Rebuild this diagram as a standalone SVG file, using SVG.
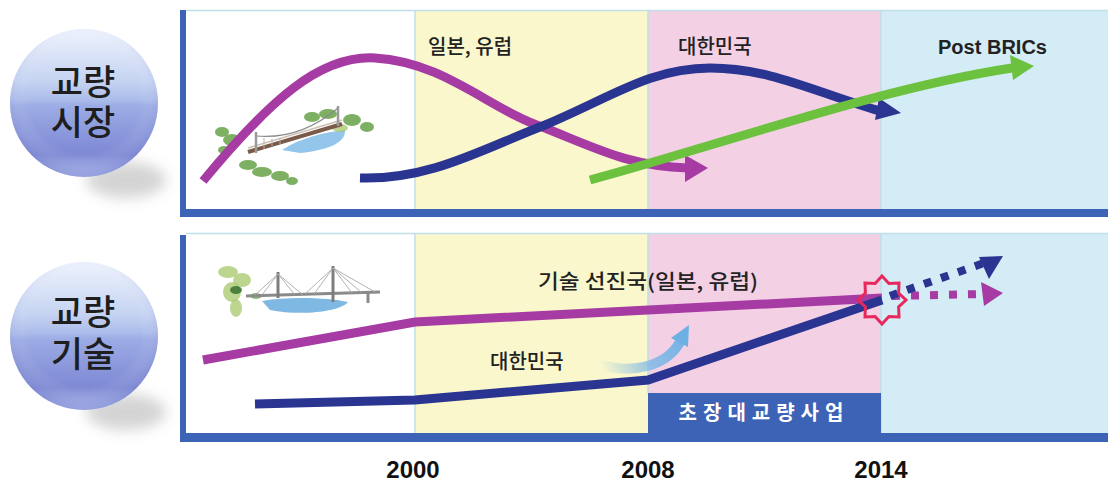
<svg xmlns="http://www.w3.org/2000/svg" width="1108" height="484" viewBox="0 0 1108 484">
  <style>
    .lbl { font-family: "Noto Sans CJK KR", "Noto Sans", sans-serif; font-size: 20px; font-weight: 500; fill: #222; }
    .orb { font-family: "Noto Sans CJK KR", "Noto Sans", sans-serif; font-size: 35px; font-weight: 500; fill: #1e1e1e; text-anchor: middle; }
    .year { font-family: "Liberation Sans", Arial, sans-serif; font-size: 24px; font-weight: bold; fill: #111; text-anchor: middle; }
    .frame { fill: #3c63b6; }
    .sep { stroke: #bfe0e8; stroke-width: 1.5; }
    .mag { fill: none; stroke: #a63ba3; stroke-width: 9; }
    .navy { fill: none; stroke: #2a3592; stroke-width: 9; }
    .grn { fill: none; stroke: #6cc13f; stroke-width: 9; }
    .leaf { fill: #5e9c3c; opacity: 0.8; }
    .leaf2 { fill: #a6c76a; opacity: 0.75; }
  </style>
  <defs>
    <linearGradient id="orbFill" x1="0" y1="0" x2="0" y2="1">
      <stop offset="0" stop-color="#eef3fc"/>
      <stop offset="0.35" stop-color="#c6d4f2"/>
      <stop offset="0.48" stop-color="#abbcea"/>
      <stop offset="0.52" stop-color="#9cace5"/>
      <stop offset="0.85" stop-color="#7d88d4"/>
      <stop offset="1" stop-color="#a6b3e8"/>
    </linearGradient>
    <radialGradient id="orbShade" cx="0.5" cy="0.45" r="0.55">
      <stop offset="0.7" stop-color="#ffffff" stop-opacity="0"/>
      <stop offset="1" stop-color="#6d78c8" stop-opacity="0.3"/>
    </radialGradient>
    <filter id="soft" x="-50%" y="-50%" width="200%" height="200%">
      <feGaussianBlur stdDeviation="7"/>
    </filter>
    <linearGradient id="sweep" gradientUnits="userSpaceOnUse" x1="600" y1="365" x2="690" y2="330">
      <stop offset="0" stop-color="#7ab8e6" stop-opacity="0"/>
      <stop offset="0.5" stop-color="#7ab8e6" stop-opacity="0.8"/>
      <stop offset="1" stop-color="#6db0e4"/>
    </linearGradient>
  </defs>

  <!-- round badges -->
  <g id="badge-market">
    <ellipse cx="126" cy="180" rx="40" ry="18" fill="#a0a0a0" opacity="0.45" filter="url(#soft)"/>
    <circle cx="84" cy="103" r="74" fill="url(#orbFill)"/>
    <circle cx="84" cy="103" r="74" fill="url(#orbShade)"/>
    <text class="orb" x="83" y="95">교량<tspan x="83" dy="40">시장</tspan></text>
  </g>
  <g id="badge-tech">
    <ellipse cx="126" cy="412" rx="40" ry="18" fill="#a0a0a0" opacity="0.45" filter="url(#soft)"/>
    <circle cx="84" cy="336" r="74" fill="url(#orbFill)"/>
    <circle cx="84" cy="336" r="74" fill="url(#orbShade)"/>
    <text class="orb" x="83" y="325">교량<tspan x="83" dy="42">기술</tspan></text>
  </g>

  <!-- market panel -->
  <g id="panel-market">
    <rect x="186" y="10" width="229" height="200" fill="#ffffff"/>
    <rect x="415" y="10" width="233" height="200" fill="#fbf7cd"/>
    <rect x="648" y="10" width="233" height="200" fill="#f3d0e4"/>
    <rect x="881" y="10" width="227" height="200" fill="#d3ecf6"/>
    <line class="sep" x1="186" y1="10.5" x2="1108" y2="10.5"/>
    <line class="sep" x1="415" y1="10" x2="415" y2="209"/>
    <line class="sep" x1="648" y1="10" x2="648" y2="209"/>
    <line class="sep" x1="881" y1="10" x2="881" y2="209"/>
    <rect class="frame" x="180" y="10" width="6" height="207"/>
    <rect class="frame" x="180" y="209" width="928" height="8"/>
  </g>

  <!-- technology panel -->
  <g id="panel-tech">
    <rect x="186" y="233" width="229" height="200" fill="#ffffff"/>
    <rect x="415" y="233" width="233" height="200" fill="#fbf7cd"/>
    <rect x="648" y="233" width="233" height="200" fill="#f3d0e4"/>
    <rect x="881" y="233" width="227" height="200" fill="#d3ecf6"/>
    <line class="sep" x1="186" y1="233.5" x2="1108" y2="233.5"/>
    <line class="sep" x1="415" y1="233" x2="415" y2="433"/>
    <line class="sep" x1="648" y1="233" x2="648" y2="393"/>
    <line class="sep" x1="881" y1="233" x2="881" y2="433"/>
    <rect class="frame" x="180" y="235" width="6" height="207"/>
    <rect class="frame" x="180" y="433" width="928" height="9"/>
  </g>

  <!-- suspension bridge sketch -->
  <g id="bridge-suspension">
    <path d="M282,150 C300,138 325,132 345,130 C346,142 330,150 300,153 Z" fill="#5aa6e0" opacity="0.65"/>
    <ellipse class="leaf" cx="222" cy="132" rx="7" ry="5"/>
    <ellipse class="leaf" cx="232" cy="140" rx="9" ry="6"/>
    <ellipse class="leaf" cx="224" cy="150" rx="6" ry="4"/>
    <ellipse class="leaf" cx="248" cy="165" rx="9" ry="5"/>
    <ellipse class="leaf" cx="262" cy="172" rx="10" ry="5"/>
    <ellipse class="leaf" cx="280" cy="176" rx="9" ry="5"/>
    <ellipse class="leaf" cx="292" cy="181" rx="6" ry="4"/>
    <ellipse class="leaf" cx="312" cy="117" rx="8" ry="5"/>
    <ellipse class="leaf" cx="328" cy="114" rx="9" ry="5"/>
    <ellipse class="leaf" cx="352" cy="120" rx="9" ry="6"/>
    <ellipse class="leaf" cx="367" cy="127" rx="7" ry="5"/>
    <ellipse class="leaf2" cx="340" cy="128" rx="8" ry="4"/>
    <path d="M248,152 L342,124" stroke="#7a5a48" stroke-width="4" fill="none"/>
    <path d="M248,148 L342,120" stroke="#cdbfb0" stroke-width="1.5" fill="none"/>
    <path d="M256,136 Q300,140 338,108" stroke="#8a8a8a" stroke-width="1.2" fill="none"/>
    <line x1="256" y1="132" x2="256" y2="153" stroke="#9a9a9a" stroke-width="2.5"/>
    <line x1="338" y1="106" x2="338" y2="126" stroke="#9a9a9a" stroke-width="2.5"/>
    <g stroke="#b0b0b0" stroke-width="1">
      <line x1="264" y1="138" x2="264" y2="149"/>
      <line x1="272" y1="139" x2="272" y2="146"/>
      <line x1="280" y1="138" x2="280" y2="144"/>
    </g>
  </g>

  <!-- cable-stayed bridge sketch -->
  <g id="bridge-cable">
    <path d="M262,301 C290,296 330,298 348,302 C340,312 300,316 270,310 Z" fill="#4a9ad8" opacity="0.7"/>
    <ellipse class="leaf2" cx="228" cy="272" rx="10" ry="6"/>
    <ellipse class="leaf2" cx="242" cy="280" rx="9" ry="7"/>
    <ellipse class="leaf2" cx="232" cy="292" rx="9" ry="10"/>
    <ellipse class="leaf2" cx="236" cy="308" rx="6" ry="9"/>
    <ellipse cx="236" cy="290" rx="6" ry="4" fill="#2f6a2a" opacity="0.8"/>
    <ellipse cx="256" cy="296" rx="6" ry="3" fill="#5e9c3c" opacity="0.7"/>
    <path d="M246,296 L380,292" stroke="#8a8a8a" stroke-width="3" fill="none"/>
    <line x1="278" y1="272" x2="278" y2="298" stroke="#7d7d7d" stroke-width="3"/>
    <line x1="333" y1="266" x2="333" y2="302" stroke="#7d7d7d" stroke-width="3"/>
    <line x1="368" y1="293" x2="368" y2="303" stroke="#8a8a8a" stroke-width="3"/>
    <g stroke="#a8a8a8" stroke-width="0.9">
      <line x1="278" y1="274" x2="255" y2="295"/>
      <line x1="278" y1="274" x2="262" y2="295"/>
      <line x1="278" y1="274" x2="295" y2="295"/>
      <line x1="278" y1="274" x2="303" y2="295"/>
      <line x1="333" y1="268" x2="305" y2="294"/>
      <line x1="333" y1="268" x2="314" y2="294"/>
      <line x1="333" y1="268" x2="352" y2="293"/>
      <line x1="333" y1="268" x2="362" y2="293"/>
      <line x1="333" y1="268" x2="375" y2="292"/>
    </g>
  </g>

  <!-- trend lines -->
  <g id="connectors">
    <!-- market: established players -->
    <path class="mag" d="M203,181 C270,100 320,55 375,58 C445,62 490,110 545,128 C600,150 630,166 688,168"/>
    <polygon points="708,168 685,155 685,182" fill="#a63ba3"/>
    <!-- market: Korea -->
    <path class="navy" d="M360,178 C430,180 480,150 545,125 C610,98 650,68 710,68 C770,68 815,92 880,111"/>
    <polygon points="901,113 879,98 875,120" fill="#2a3592"/>
    <!-- market: Post BRICs -->
    <path class="grn" d="M590,180 C720,145 880,88 1012,68"/>
    <polygon points="1034,66 1010,55 1013,80" fill="#6cc13f"/>

    <!-- technology: leading countries -->
    <path class="mag" stroke-width="8" d="M203,360 L415,322 L882,298"/>
    <path d="M892,296 L985,294" fill="none" stroke="#a63ba3" stroke-width="8" stroke-dasharray="8,11"/>
    <polygon points="1003,293 981,282 984,306" fill="#a63ba3"/>
    <!-- technology: Korea -->
    <path class="navy" stroke-width="8" d="M255,404 L415,400 L648,380 L882,300"/>
    <path d="M890,296 L984,263" fill="none" stroke="#2a3592" stroke-width="8" stroke-dasharray="8,10"/>
    <polygon points="1003,256 979,257 989,279" fill="#2a3592"/>
    <!-- catch-up sweep -->
    <path d="M598,364 C630,374 665,368 680,342" fill="none" stroke="url(#sweep)" stroke-width="10"/>
    <polygon points="689,325 671,338 688,347" fill="#6db0e4"/>
    <!-- convergence point -->
    <polygon points="882,276 888.9,283.4 899,283 898.6,293.1 906,300 898.6,306.9 899,317 888.9,316.6 882,324 875.1,316.6 865,317 865.4,306.9 858,300 865.4,293.1 865,283 875.1,283.4" fill="none" stroke="#e8285c" stroke-width="3" stroke-linejoin="miter"/>
  </g>

  <!-- labels -->
  <g id="labels">
    <text class="lbl" x="428" y="54" font-weight="bold">일본, 유럽</text>
    <text class="lbl" x="678" y="54" font-weight="bold">대한민국</text>
    <text x="938" y="54" font-family="Liberation Sans, Arial, sans-serif" font-size="20" font-weight="bold" fill="#222" textLength="109" lengthAdjust="spacingAndGlyphs">Post BRICs</text>
    <text class="lbl" x="538" y="289" textLength="220" lengthAdjust="spacingAndGlyphs">기술 선진국(일본, 유럽)</text>
    <text class="lbl" x="490" y="369" font-weight="bold">대한민국</text>
  </g>

  <g id="project-box">
    <rect x="648" y="393" width="233" height="40" fill="#3c63b6"/>
    <text x="764" y="420" font-family="Noto Sans CJK KR, Noto Sans, sans-serif" font-size="20" font-weight="bold" fill="#ffffff" text-anchor="middle" letter-spacing="6">초장대교량사업</text>
  </g>

  <g id="years">
    <text class="year" x="413" y="478">2000</text>
    <text class="year" x="648" y="478">2008</text>
    <text class="year" x="881" y="478">2014</text>
  </g>
</svg>
